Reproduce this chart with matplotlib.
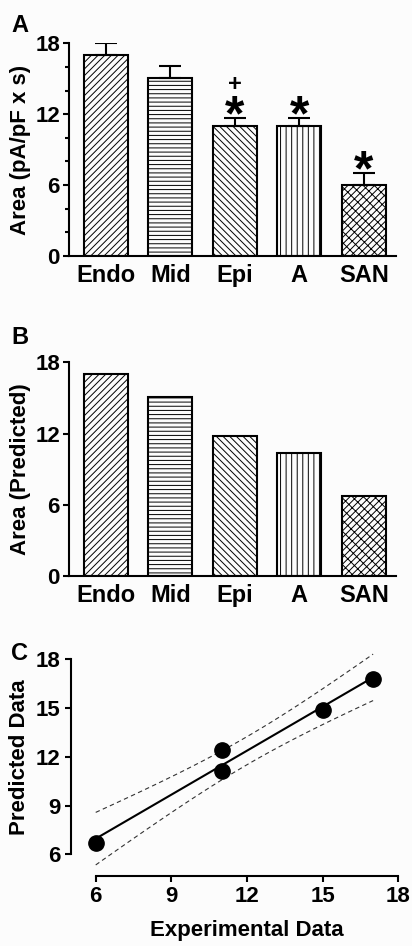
import numpy as np
import matplotlib
matplotlib.use('Agg')
import matplotlib.pyplot as plt

plt.rcParams['font.family'] = ['Liberation Sans', 'DejaVu Sans']
plt.rcParams['font.weight'] = 'bold'
plt.rcParams['hatch.linewidth'] = 0.7
plt.rcParams['mathtext.fontset'] = 'custom'
plt.rcParams['mathtext.rm'] = 'Liberation Sans:bold'
plt.rcParams['mathtext.default'] = 'rm'

# Measured and predicted area by region
regions = ['Endo', 'Mid', 'Epi', 'A', 'SAN']
area_mean = [17.0, 15.05, 11.0, 11.0, 6.0]
area_sem = [1.0, 1.05, 0.7, 0.65, 1.0]
area_predicted = [17.0, 15.1, 11.8, 10.4, 6.7]
hatches = ['/////', '----', '\\\\\\\\\\', '|||', '/////\\\\\\']

# Correlation of experimental vs predicted values
exp_data = [6, 11, 11, 15, 17]
pred_data = [6.7, 12.4, 11.1, 14.9, 16.8]

bg = '#fcfcfc'
fig = plt.figure(figsize=(4.12, 9.46), dpi=100, facecolor=bg)


def style_bar_axes(ax):
    ax.set_facecolor(bg)
    for s in ['top', 'right']:
        ax.spines[s].set_visible(False)
    for s in ['left', 'bottom']:
        ax.spines[s].set_linewidth(1.5)
    ax.set_ylim(0, 18)
    ax.set_xlim(-0.57, 4.5)
    ax.set_yticks([0, 6, 12, 18])
    ax.tick_params(axis='y', length=4.5, width=1.5, labelsize=16, pad=2)
    ax.tick_params(axis='x', length=0, labelsize=17, pad=6)
    ax.set_xticks(range(len(regions)))
    ax.set_xticklabels(regions, fontweight='bold')
    for lbl in ax.get_yticklabels():
        lbl.set_fontweight('bold')


x = np.arange(len(regions))

# Panel A: experimental areas with SEM
axA = fig.add_axes([0.1675, 0.7294, 0.794, 0.2248])
style_bar_axes(axA)
for i in range(len(regions)):
    axA.bar(x[i], area_mean[i], width=0.68, facecolor=bg, edgecolor='black',
            linewidth=1.5, hatch=hatches[i], zorder=2)
axA.errorbar(x, area_mean, yerr=[np.zeros(len(x)), area_sem], fmt='none',
             ecolor='black', elinewidth=1.5, capsize=8, capthick=1.5, zorder=3)
axA.set_yticks([2, 4, 8, 10, 14, 16], minor=True)
axA.tick_params(axis='y', which='minor', length=3, width=1.5)
axA.set_ylabel('Area (pA/pF x s)', fontsize=16, fontweight='bold', labelpad=3)

# significance markers (mathtext keeps the box tight around the glyph)
for i in [2, 3, 4]:
    axA.text(x[i], area_mean[i] + area_sem[i] + 0.15, r'$*$', fontsize=36,
             ha='center', va='center')
axA.text(x[2], area_mean[2] + area_sem[2] + 3.0, r'$+$', fontsize=17,
         ha='center', va='center')
fig.text(0.048, 0.973, 'A', fontsize=17, fontweight='bold', ha='center', va='center')

# Panel B: predicted areas
axB = fig.add_axes([0.1675, 0.3911, 0.794, 0.2259])
style_bar_axes(axB)
for i in range(len(regions)):
    axB.bar(x[i], area_predicted[i], width=0.68, facecolor=bg, edgecolor='black',
            linewidth=1.5, hatch=hatches[i], zorder=2)
axB.set_ylabel('Area (Predicted)', fontsize=16, fontweight='bold', labelpad=3)
fig.text(0.048, 0.643, 'B', fontsize=17, fontweight='bold', ha='center', va='center')

# Panel C: linear regression with 95% confidence bands
axC = fig.add_axes([0.2323, 0.0969, 0.7345, 0.2061])
axC.set_facecolor(bg)
for s in ['top', 'right']:
    axC.spines[s].set_visible(False)
axC.spines['left'].set_position(('outward', 17.8))
axC.spines['bottom'].set_position(('outward', 15.6))
for s in ['left', 'bottom']:
    axC.spines[s].set_linewidth(1.5)
axC.set_xlim(6, 18)
axC.set_ylim(6, 18)
axC.set_xticks([6, 9, 12, 15, 18])
axC.set_yticks([6, 9, 12, 15, 18])
axC.tick_params(length=4.5, width=1.5, labelsize=16, pad=3)
for lbl in axC.get_xticklabels() + axC.get_yticklabels():
    lbl.set_fontweight('bold')

xe = np.array(exp_data, dtype=float)
ye = np.array(pred_data, dtype=float)
slope, icpt = np.polyfit(xe, ye, 1)
n = len(xe)
resid = ye - (slope * xe + icpt)
s_err = np.sqrt(np.sum(resid ** 2) / (n - 2))
t_crit = 3.182  # two-tailed 95%, df = 3
xf = np.linspace(xe.min(), xe.max(), 100)
yf = slope * xf + icpt
band = t_crit * s_err * np.sqrt(1 / n + (xf - xe.mean()) ** 2 / np.sum((xe - xe.mean()) ** 2))

axC.plot(xf, yf, color='black', lw=1.5, clip_on=False, zorder=2)
axC.plot(xf, yf + band, color='#333333', lw=0.8, ls=(0, (4, 3)), clip_on=False)
axC.plot(xf, yf - band, color='#333333', lw=0.8, ls=(0, (4, 3)), clip_on=False)
axC.plot(xe, ye, 'o', color='black', markersize=11, clip_on=False, zorder=3)

axC.set_ylabel('Predicted Data', fontsize=16, fontweight='bold', labelpad=4)
axC.set_xlabel('Experimental Data', fontsize=16, fontweight='bold', labelpad=9)
fig.text(0.048, 0.309, 'C', fontsize=17, fontweight='bold', ha='center', va='center')

fig.savefig('out.png', dpi=100, facecolor=bg)
